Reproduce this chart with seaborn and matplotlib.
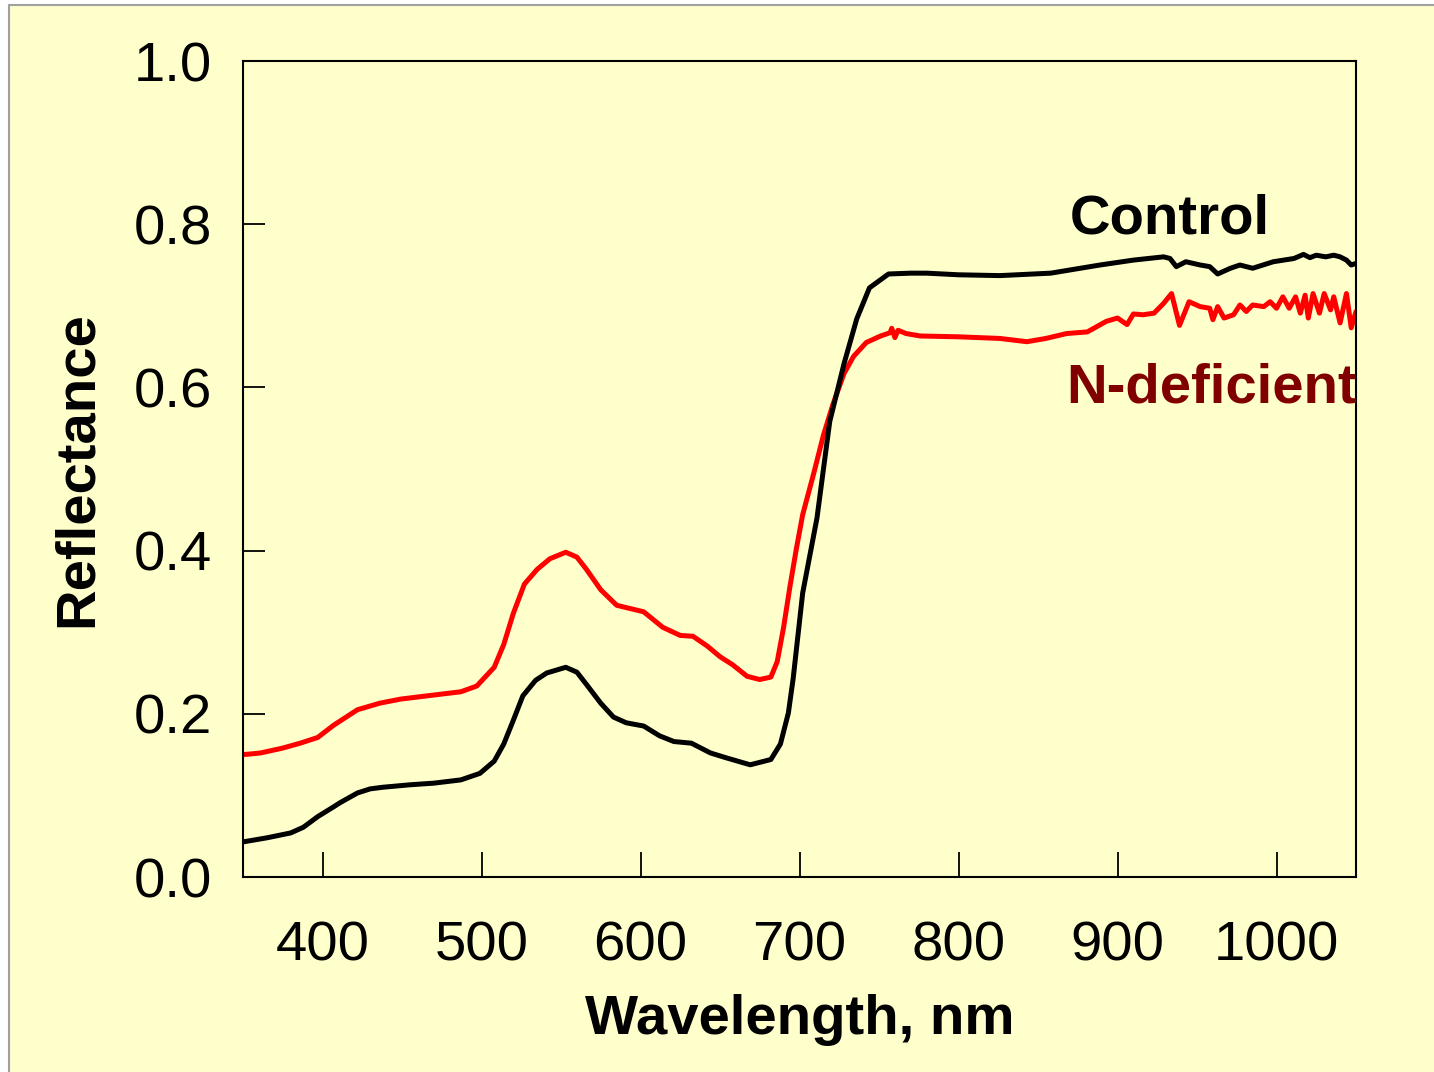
import matplotlib
matplotlib.use("Agg")
import matplotlib.pyplot as plt
import seaborn as sns
import pandas as pd
from matplotlib.lines import Line2D
from matplotlib.patches import Rectangle

# ---- data ----
wl_control = [350, 365, 380, 388, 397, 407, 411, 422, 430, 438, 455, 470, 487, 499,
              508, 514, 520, 526, 534, 541, 553, 560, 566, 575, 583, 591, 602, 612,
              621, 632, 644, 654, 669, 682, 688, 693, 696, 702, 711, 719, 728, 736,
              744, 756, 770, 780, 800, 826, 858, 889, 910, 929, 933, 937, 943,
              952, 958, 963, 971, 977, 985, 998, 1011, 1017, 1021, 1025, 1031, 1036,
              1040, 1044, 1047, 1050]
refl_control = [0.043, 0.048, 0.054, 0.061, 0.074, 0.086, 0.091, 0.103, 0.108, 0.110,
                0.113, 0.115, 0.119, 0.127, 0.142, 0.163, 0.192, 0.222, 0.241, 0.250,
                0.257, 0.251, 0.236, 0.213, 0.196, 0.189, 0.185, 0.173, 0.166, 0.164,
                0.152, 0.146, 0.1375, 0.144, 0.163, 0.201, 0.243, 0.348, 0.440, 0.558,
                0.629, 0.684, 0.722, 0.739, 0.740, 0.740, 0.738, 0.737, 0.740,
                0.750, 0.756, 0.760, 0.758, 0.748, 0.754, 0.750, 0.748, 0.739, 0.746,
                0.750, 0.746, 0.754, 0.758, 0.763, 0.759, 0.762, 0.760, 0.762, 0.760,
                0.756, 0.750, 0.752]

wl_ndef = [350, 356, 361, 375, 386, 397, 407, 422, 436, 449, 470, 487, 497, 508, 514,
           520, 527, 535, 543, 553, 560, 566, 575, 585, 602, 614, 625, 633, 642, 650,
           658, 667, 675, 682, 686, 690, 694, 698, 702, 709, 715, 721, 728, 734, 742,
           751, 757, 758, 760, 762, 767, 776, 800, 826, 843, 855, 868, 881, 893, 900,
           906, 910, 916, 923, 929, 934, 939, 945, 952, 958, 960, 963, 967, 973, 977,
           981, 985, 992, 996, 1000, 1004, 1008, 1012, 1015, 1018, 1020, 1023, 1027,
           1030, 1034, 1036, 1040, 1044, 1047, 1050]
refl_ndef = [0.150, 0.151, 0.152, 0.158, 0.164, 0.171, 0.186, 0.205, 0.213, 0.218,
             0.223, 0.227, 0.234, 0.257, 0.285, 0.323, 0.359, 0.377, 0.390, 0.398,
             0.392, 0.377, 0.352, 0.333, 0.325, 0.306, 0.296, 0.295, 0.283, 0.270,
             0.260, 0.246, 0.242, 0.245, 0.264, 0.306, 0.356, 0.402, 0.444, 0.495,
             0.541, 0.579, 0.617, 0.638, 0.655, 0.663, 0.667, 0.6725, 0.661, 0.670,
             0.666, 0.663, 0.662, 0.660, 0.656, 0.660, 0.666, 0.668, 0.681, 0.685,
             0.677, 0.690, 0.689, 0.691, 0.703, 0.715, 0.676, 0.705, 0.699, 0.697,
             0.683, 0.699, 0.685, 0.689, 0.701, 0.693, 0.701, 0.699, 0.705, 0.697,
             0.711, 0.697, 0.711, 0.691, 0.713, 0.685, 0.715, 0.691, 0.715, 0.695,
             0.711, 0.679, 0.715, 0.673, 0.693]

x_ticks = [400, 500, 600, 700, 800, 900, 1000]
y_ticks = [0.0, 0.2, 0.4, 0.6, 0.8, 1.0]
y_tick_labels = ["0.0", "0.2", "0.4", "0.6", "0.8", "1.0"]

# ---- style ----
sns.set_theme(style="ticks")
plt.rcParams["font.family"] = ["Liberation Sans", "DejaVu Sans"]
plt.rcParams["text.color"] = "black"
plt.rcParams["axes.labelcolor"] = "black"

FS = 40.5
BG = "#FFFFCC"
fig = plt.figure(figsize=(14.34, 10.72), dpi=100, facecolor="white")
W, H = 1434, 1072
fig.add_artist(Rectangle((9 / W, 0), 1 - 9 / W, 1 - 5 / H, transform=fig.transFigure,
                         facecolor=BG, edgecolor="none", zorder=-10))
fig.add_artist(Line2D([9 / W, 1], [1 - 5 / H, 1 - 5 / H], transform=fig.transFigure,
                      color="#A0A0A0", lw=1.5))
fig.add_artist(Line2D([9 / W, 9 / W], [0, 1 - 5 / H], transform=fig.transFigure,
                      color="#A0A0A0", lw=1.5))

ax = fig.add_axes([243 / W, 1 - 877 / H, (1356 - 243) / W, (877 - 61) / H])
ax.set_facecolor(BG)

df_c = pd.DataFrame({"Wavelength": wl_control, "Reflectance": refl_control})
df_n = pd.DataFrame({"Wavelength": wl_ndef, "Reflectance": refl_ndef})

sns.lineplot(data=df_n, x="Wavelength", y="Reflectance", ax=ax, color="#FF0000",
             lw=3.6, estimator=None, sort=False,
             solid_joinstyle="round", solid_capstyle="round")
sns.lineplot(data=df_c, x="Wavelength", y="Reflectance", ax=ax, color="black",
             lw=3.6, estimator=None, sort=False,
             solid_joinstyle="round", solid_capstyle="round")

ax.set_xlim(350, 1050)
ax.set_ylim(0, 1.0)
ax.set_xticks(x_ticks)
ax.set_xticklabels([str(t) for t in x_ticks])
ax.set_yticks(y_ticks)
ax.set_yticklabels(y_tick_labels)

for s in ax.spines.values():
    s.set_visible(True)
    s.set_linewidth(1.5)
    s.set_color("black")

ax.tick_params(axis="x", direction="in", length=18, width=1.3, pad=31,
               labelsize=FS, colors="black")
ax.tick_params(axis="y", direction="in", length=16, width=1.3, pad=22,
               labelsize=FS, colors="black")

ax.set_xlabel("Wavelength, nm", fontsize=FS, fontweight="bold", labelpad=16)
ax.set_ylabel("Reflectance", fontsize=FS, fontweight="bold", labelpad=22)

ax.text(870, 0.789, "Control", fontsize=FS, fontweight="bold", color="black",
        ha="left", va="baseline")
ax.text(868, 0.582, "N-deficient", fontsize=FS, fontweight="bold", color="#800000",
        ha="left", va="baseline")

fig.savefig("out.png", dpi=100, facecolor="white")
